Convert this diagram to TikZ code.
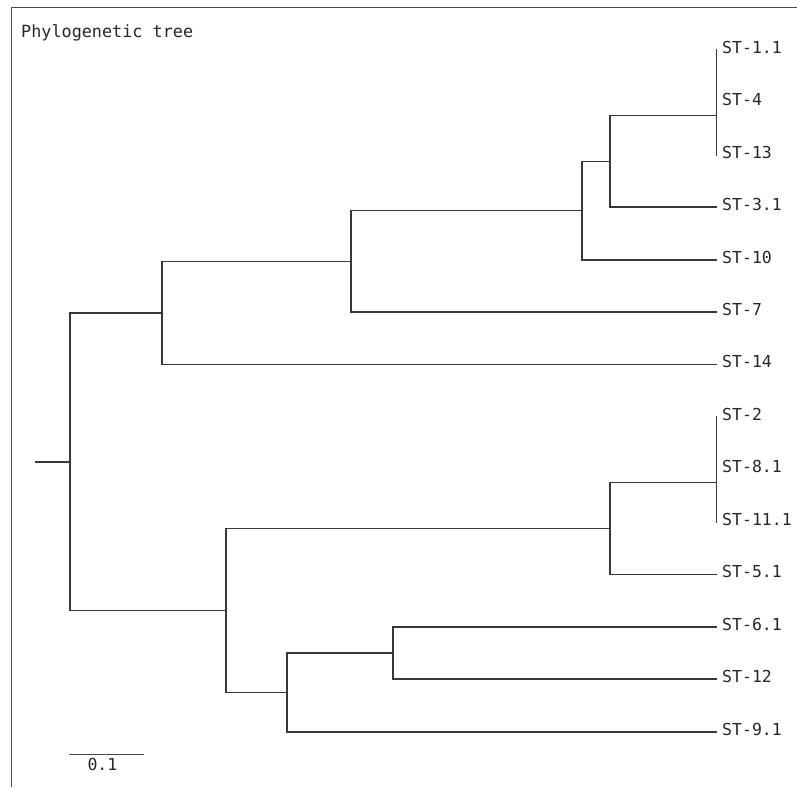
\documentclass[tikz,border=0pt]{standalone}
\usepackage{fontspec}
\setmonofont{DejaVu Sans Mono}
\begin{document}
\begin{tikzpicture}[x=1pt,y=-1pt,
  branch/.style={draw=black!78,line width=1.7pt,line join=miter,line cap=rect},
  frameline/.style={draw=black!70,line width=1.2pt},
  leaflabel/.style={anchor=base west,inner sep=0pt,text=black!85,font=\ttfamily\fontsize{16.5}{18}\selectfont},
  titlelabel/.style={anchor=base west,inner sep=0pt,text=black!85,font=\ttfamily\fontsize{16.8}{18}\selectfont}]
\useasboundingbox (0,0) rectangle (797,787);
% frame
\coordinate (f1) at (11.5,787);
\coordinate (f2) at (11.5,7.3);
\coordinate (f3) at (797,7.3);
\draw[frameline] (f1) -- (f2) -- (f3);
% title
\node[titlelabel] (title) at (21,37.3) {Phylogenetic tree};
% leaf tips
\foreach \k/\n in {0/t0,1/t1,2/t2,3/t3,4/t4,5/t5,6/t6,7/t7,8/t8,9/t9,10/t10,11/t11,12/t12,13/t13}
  \coordinate (\n) at (716.5,{50+52.44*\k});
% leaf labels
\node[leaflabel] (L0) at ([xshift=5.5pt,yshift=-3.3pt]t0) {ST-1.1};
\node[leaflabel] (L1) at ([xshift=5.5pt,yshift=-3.3pt]t1) {ST-4};
\node[leaflabel] (L2) at ([xshift=5.5pt,yshift=-3.3pt]t2) {ST-13};
\node[leaflabel] (L3) at ([xshift=5.5pt,yshift=-3.3pt]t3) {ST-3.1};
\node[leaflabel] (L4) at ([xshift=5.5pt,yshift=-3.3pt]t4) {ST-10};
\node[leaflabel] (L5) at ([xshift=5.5pt,yshift=-3.3pt]t5) {ST-7};
\node[leaflabel] (L6) at ([xshift=5.5pt,yshift=-3.3pt]t6) {ST-14};
\node[leaflabel] (L7) at ([xshift=5.5pt,yshift=-3.3pt]t7) {ST-2};
\node[leaflabel] (L8) at ([xshift=5.5pt,yshift=-3.3pt]t8) {ST-8.1};
\node[leaflabel] (L9) at ([xshift=5.5pt,yshift=-3.3pt]t9) {ST-11.1};
\node[leaflabel] (L10) at ([xshift=5.5pt,yshift=-3.3pt]t10) {ST-5.1};
\node[leaflabel] (L11) at ([xshift=5.5pt,yshift=-3.3pt]t11) {ST-6.1};
\node[leaflabel] (L12) at ([xshift=5.5pt,yshift=-3.3pt]t12) {ST-12};
\node[leaflabel] (L13) at ([xshift=5.5pt,yshift=-3.3pt]t13) {ST-9.1};
% internal nodes
\coordinate (stub) at (35.7,461.7);
\coordinate (E) at (70,461.7);
\coordinate (D) at (162.3,313.0);
\coordinate (C) at (350.7,261.4);
\coordinate (B) at (582,210.6);
\coordinate (A) at (610,161.4);
\coordinate (P1) at (716.5,115.55);
\coordinate (P1a) at (716.5,76.22);
\coordinate (F) at (225.7,610.45);
\coordinate (G) at (610,528.5);
\coordinate (P2) at (716.5,482.6);
\coordinate (P2a) at (716.5,443.3);
\coordinate (H) at (286.7,692.4);
\coordinate (I) at (393.3,653.06);
% branches
\draw[branch] (stub) -- (E);
\draw[branch] (E) |- (D);
\draw[branch] (E) |- (F);
\draw[branch] (D) |- (C);
\draw[branch] (D) |- (t6);
\draw[branch] (C) |- (B);
\draw[branch] (C) |- (t5);
\draw[branch] (B) |- (A);
\draw[branch] (B) |- (t4);
\draw[branch] (A) |- (P1);
\draw[branch] (A) |- (t3);
\draw[branch] (P1) |- (P1a);
\draw[branch] (P1) |- (t2);
\draw[branch] (P1a) |- (t0);
\draw[branch] (P1a) |- (t1);
\draw[branch] (F) |- (G);
\draw[branch] (F) |- (H);
\draw[branch] (G) |- (P2);
\draw[branch] (G) |- (t10);
\draw[branch] (P2) |- (P2a);
\draw[branch] (P2) |- (t9);
\draw[branch] (P2a) |- (t7);
\draw[branch] (P2a) |- (t8);
\draw[branch] (H) |- (I);
\draw[branch] (H) |- (t13);
\draw[branch] (I) |- (t11);
\draw[branch] (I) |- (t12);
% scale bar
\coordinate (sb1) at (69.3,754.3);
\coordinate (sb2) at (144.3,754.3);
\draw[draw=black!70,line width=1.2pt] (sb1) -- (sb2);
\node[leaflabel] (sbl) at (87.3,770) {0.1};
\end{tikzpicture}
\end{document}
